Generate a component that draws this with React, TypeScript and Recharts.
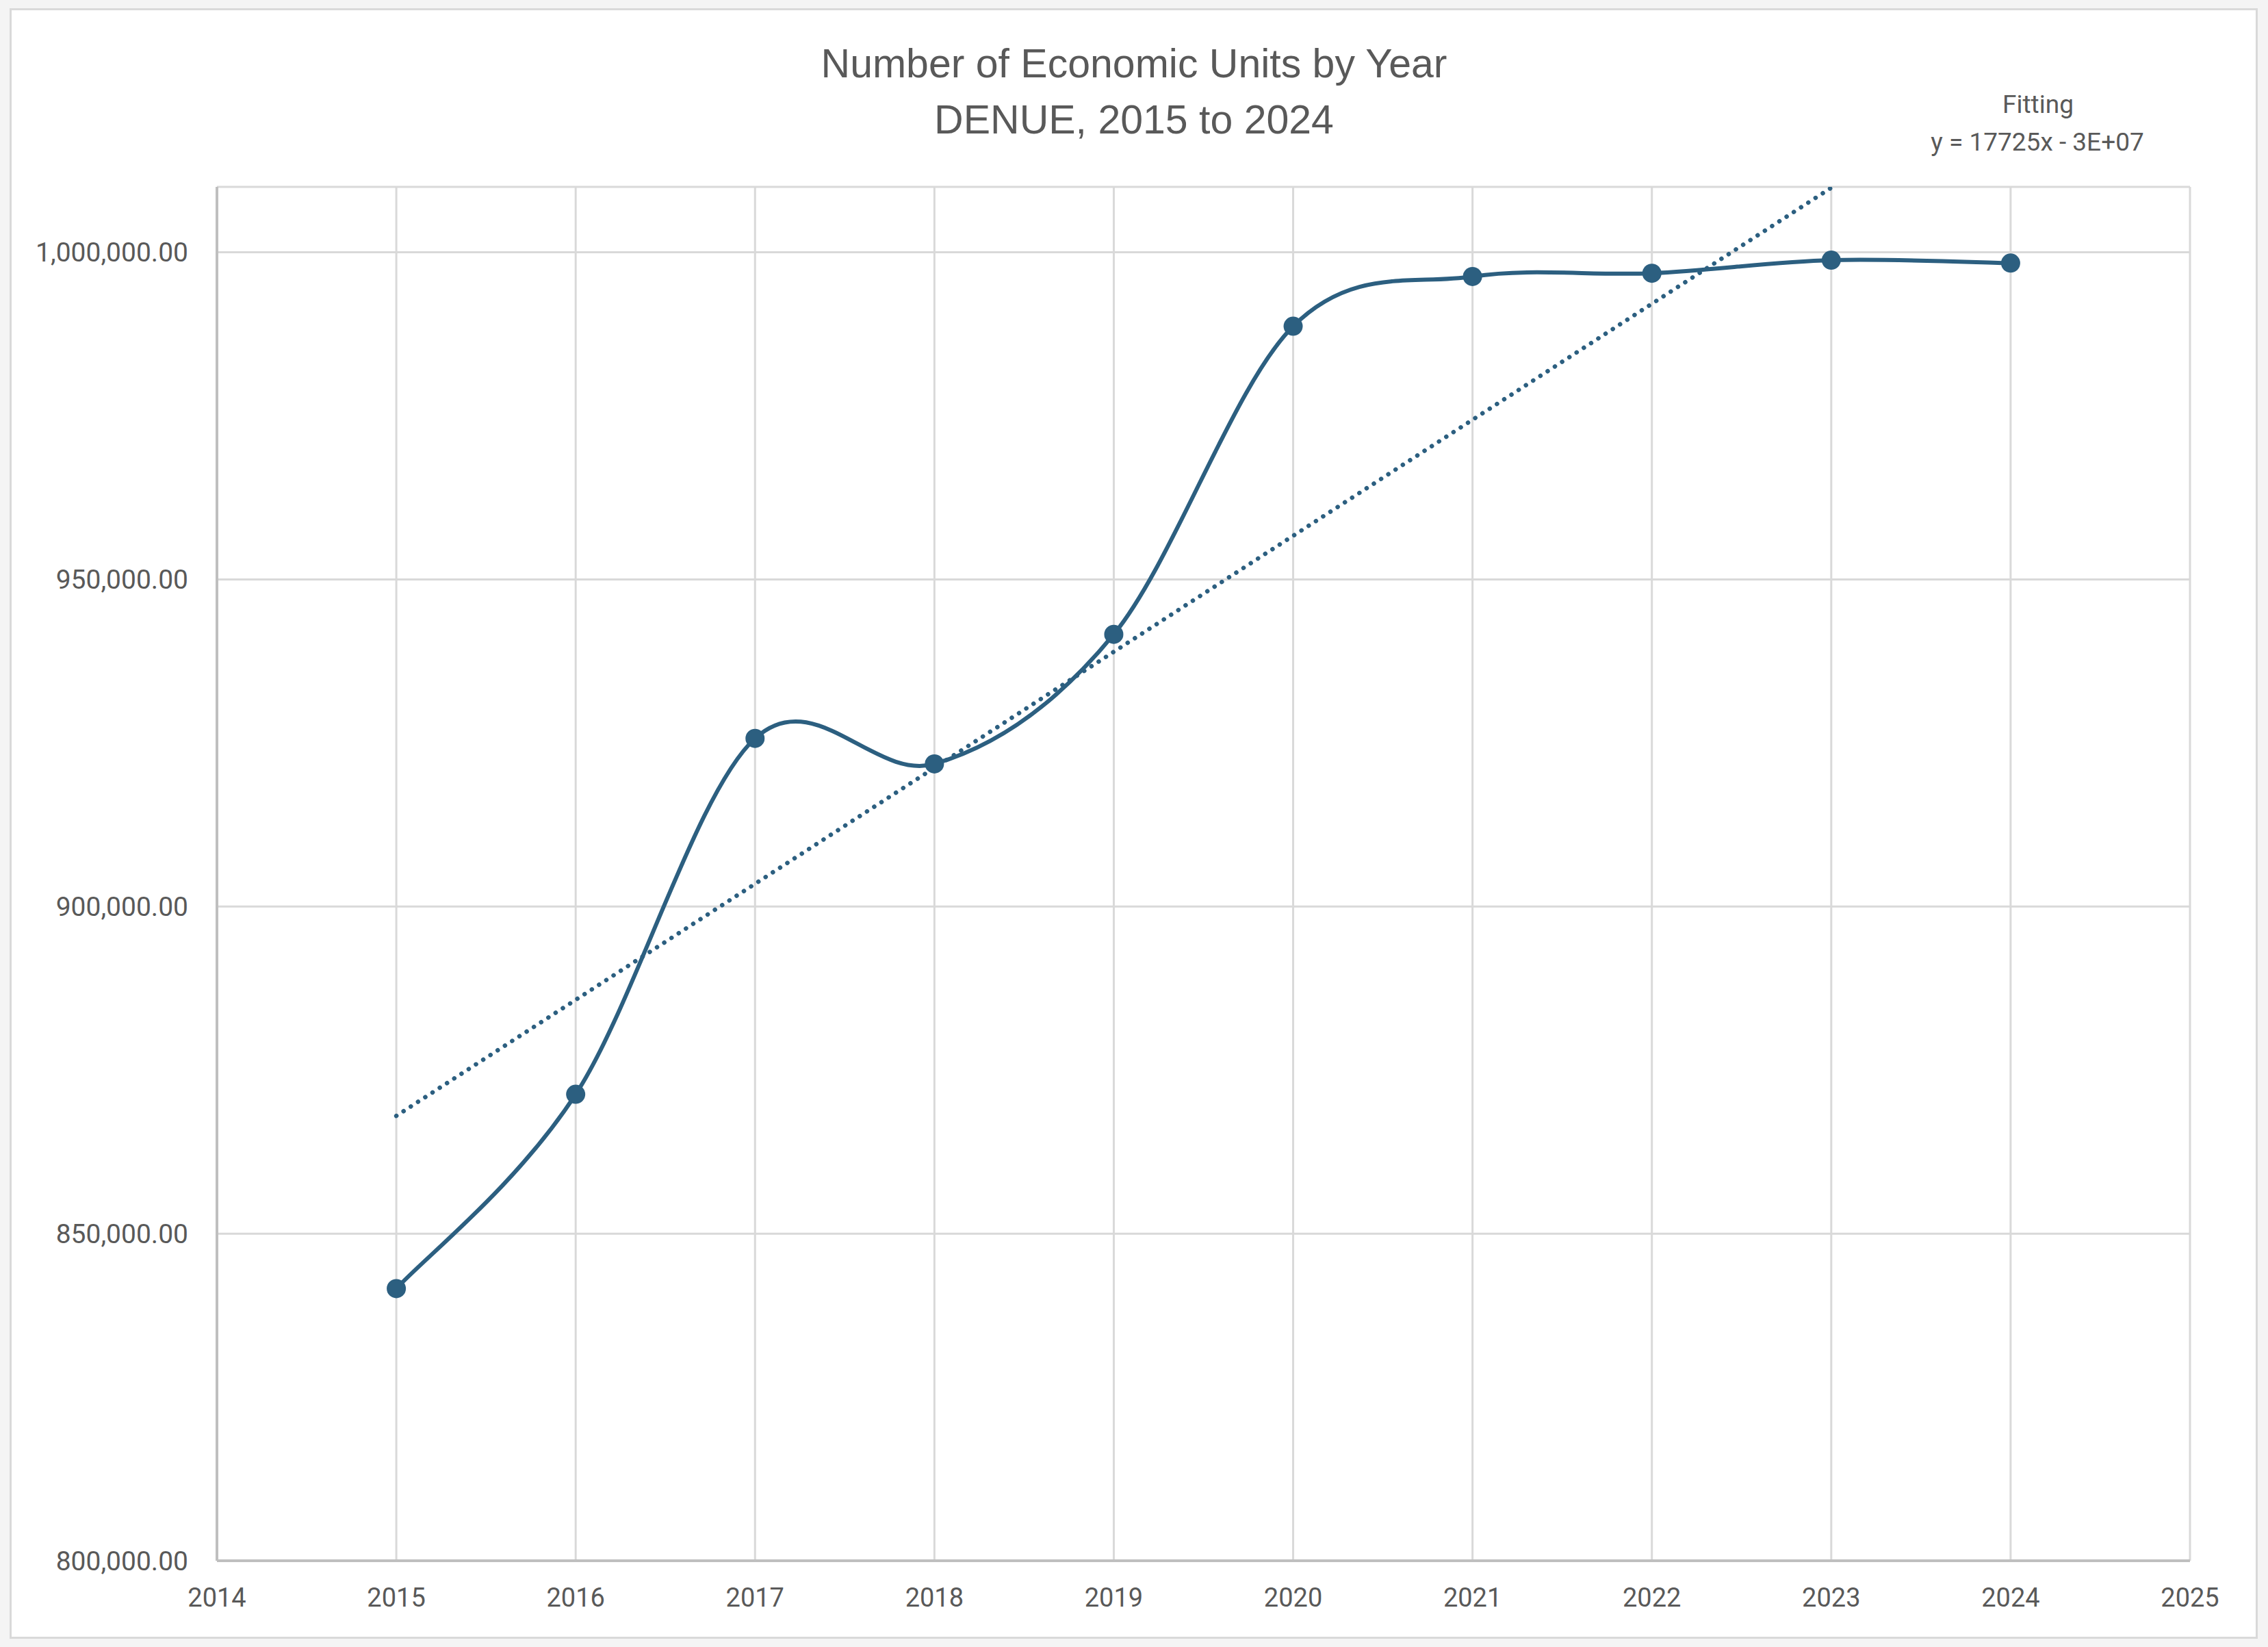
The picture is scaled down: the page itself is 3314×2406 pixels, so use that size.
import React from "react";
import { LineChart, Line, XAxis, YAxis, CartesianGrid } from "recharts";

const years = [2015, 2016, 2017, 2018, 2019, 2020, 2021, 2022, 2023, 2024];
const units = [841600, 871300, 925700, 921800, 941600, 988700, 996300, 996800, 998800, 998350];
const xTicks = [2014, 2015, 2016, 2017, 2018, 2019, 2020, 2021, 2022, 2023, 2024, 2025];
const yTicks = [800000, 850000, 900000, 950000, 1000000];
const trendYears = [2015, 2024];
const trendValues = [868000, 1027600];

const titleLines = ["Number of Economic Units by Year", "DENUE, 2015 to 2024"];
const fitLines = ["Fitting", "y = 17725x - 3E+07"];

const COLOR = "#2c5f80";
const TEXT = "#595959";

const seriesData = years.map((y, i) => ({ year: y, value: units[i] }));
const trendData = trendYears.map((y, i) => ({ year: y, value: trendValues[i] }));

// Excel-style smoothed line (cubic Bezier, control points at 1/6 of neighbour span)
const excelSmooth: any = (context: any) => {
  let xs: number[] = [];
  let ys: number[] = [];
  return {
    areaStart() {},
    areaEnd() {},
    lineStart() {
      xs = [];
      ys = [];
    },
    lineEnd() {
      const n = xs.length;
      if (n === 0) return;
      context.moveTo(xs[0], ys[0]);
      for (let i = 0; i < n - 1; i++) {
        const p = Math.max(i - 1, 0);
        const q = Math.min(i + 2, n - 1);
        const c1x = xs[i] + (xs[i + 1] - xs[p]) / 6;
        const c1y = ys[i] + (ys[i + 1] - ys[p]) / 6;
        const c2x = xs[i + 1] - (xs[q] - xs[i]) / 6;
        const c2y = ys[i + 1] - (ys[q] - ys[i]) / 6;
        context.bezierCurveTo(c1x, c1y, c2x, c2y, xs[i + 1], ys[i + 1]);
      }
    },
    point(x: number, y: number) {
      xs.push(+x);
      ys.push(+y);
    },
  };
};

const fmt = (v: number) =>
  v.toLocaleString("en-US", { minimumFractionDigits: 2, maximumFractionDigits: 2 });

export default function App() {
  return (
    <div
      style={{
        position: "absolute",
        left: 0,
        top: 0,
        width: 3314,
        height: 2406,
        background: "#f4f4f4",
        overflow: "hidden",
      }}
    >
      <div
        style={{
          position: "absolute",
          left: 14,
          top: 12,
          width: 3285,
          height: 2382,
          boxSizing: "border-box",
          border: "3px solid #d9d9d9",
          background: "#ffffff",
        }}
      />
      <div style={{ position: "absolute", left: 0, top: 0 }}>
        <LineChart
          width={3314}
          height={2406}
          margin={{ top: 273, right: 114, bottom: 66, left: 17 }}
        >
          <CartesianGrid
            stroke="#d9d9d9"
            strokeWidth={3}
            horizontal={true}
            vertical={true}
          />
          <XAxis
            type="number"
            dataKey="year"
            domain={[2014, 2025]}
            ticks={xTicks}
            allowDataOverflow
            height={60}
            axisLine={{ stroke: "#bfbfbf", strokeWidth: 4 }}
            tickLine={false}
            tickSize={0}
            tickMargin={40}
            tick={{ fill: TEXT, fontSize: 38, fontFamily: "Roboto" }}
          />
          <YAxis
            type="number"
            dataKey="value"
            domain={[800000, 1010000]}
            ticks={yTicks}
            allowDataOverflow
            width={300}
            axisLine={{ stroke: "#bfbfbf", strokeWidth: 4 }}
            tickLine={false}
            tickSize={0}
            tickMargin={42}
            tickFormatter={fmt}
            tick={{ fill: TEXT, fontSize: 39, fontFamily: "Roboto" }}
          />
          <Line
            data={trendData}
            dataKey="value"
            type="linear"
            stroke={COLOR}
            strokeWidth={6.5}
            strokeDasharray="0.1 12.5"
            strokeLinecap="round"
            dot={false}
            activeDot={false}
            isAnimationActive={false}
          />
          <Line
            data={seriesData}
            dataKey="value"
            type={excelSmooth}
            stroke={COLOR}
            strokeWidth={6}
            dot={{ r: 14, fill: COLOR, stroke: COLOR, strokeWidth: 0 }}
            activeDot={false}
            isAnimationActive={false}
          />
        </LineChart>
      </div>
      <svg
        width={3314}
        height={2406}
        style={{ position: "absolute", left: 0, top: 0, pointerEvents: "none" }}
      >
        <text
          x={1657}
          y={113}
          textAnchor="middle"
          fontFamily="Liberation Sans"
          fontSize={59}
          fill={TEXT}
        >
          {titleLines[0]}
        </text>
        <text
          x={1657}
          y={195}
          textAnchor="middle"
          fontFamily="Liberation Sans"
          fontSize={59}
          fill={TEXT}
        >
          {titleLines[1]}
        </text>
        <text x={2978} y={165} textAnchor="middle" fontFamily="Roboto" fontSize={37} fill={TEXT}>
          {fitLines[0]}
        </text>
        <text x={2977} y={220} textAnchor="middle" fontFamily="Roboto" fontSize={37} fill={TEXT}>
          {fitLines[1]}
        </text>
      </svg>
    </div>
  );
}
